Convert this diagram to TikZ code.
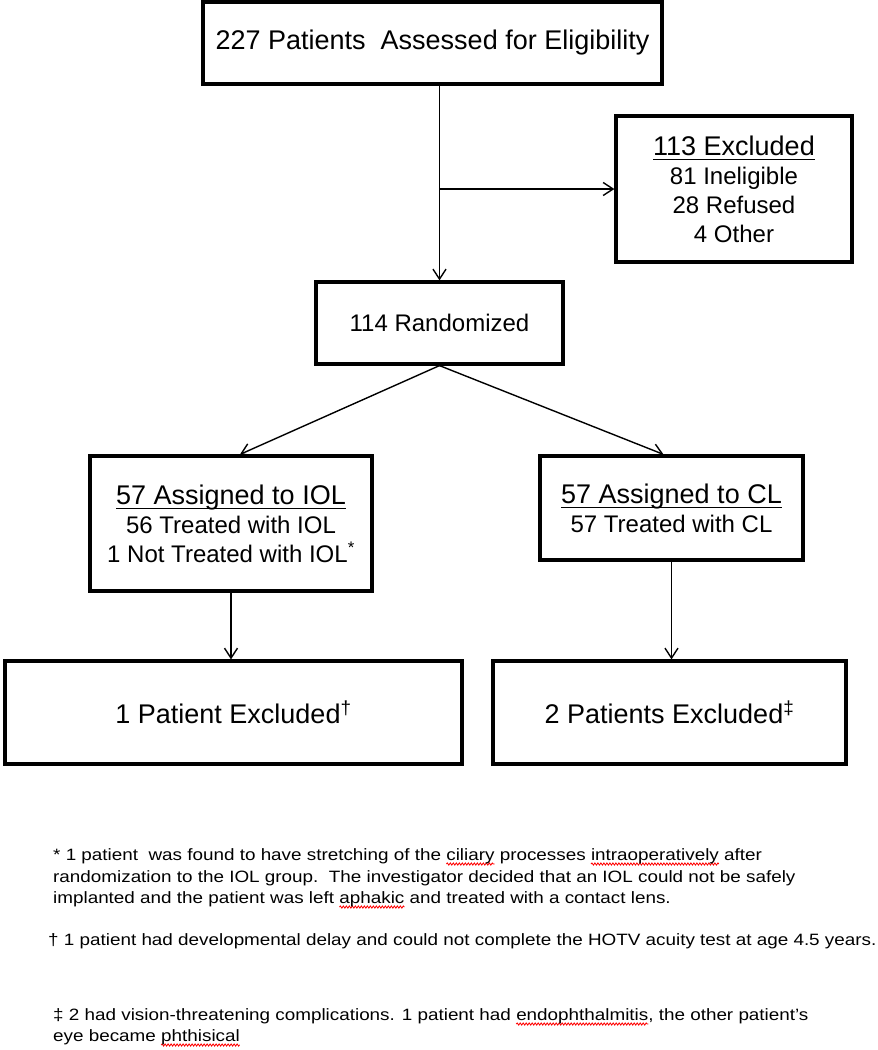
\documentclass[tikz,border=0pt]{standalone}
\usepackage{fontspec}
\setmainfont{Liberation Sans}
\newfontfamily\fnfont[FakeStretch=1.15]{Liberation Sans}
\usetikzlibrary{arrows.meta,decorations.pathmorphing}
\newsavebox\wbox
\newlength\wlen
\newcommand\hul[1]{\sbox\wbox{#1}\setlength\wlen{\wd\wbox}\rlap{\rule[-5pt]{\wlen}{1.5pt}}\usebox\wbox}
\newcommand\redwave[1]{\sbox\wbox{#1}\setlength\wlen{\wd\wbox}\rlap{\tikz[overlay,baseline=0pt,x=1cm,y=1cm]\draw[red,line width=0.8pt,decorate,decoration={snake,amplitude=1.1pt,segment length=3pt}] (0pt,-4pt) -- (\wlen,-4pt);}\usebox\wbox}
\begin{document}
\begin{tikzpicture}[x=1pt,y=-1pt,
  box/.style={draw, line width=3.2pt, inner sep=0pt, align=center},
  conn/.style={line width=1.4pt, -{Straight Barb[length=10pt,width=13pt,line width=1.4pt]}},
  head/.style={font=\fontsize{27}{29}\selectfont},
  sub/.style={font=\fontsize{24}{29}\selectfont},
  fn/.style={anchor=base west, inner sep=0pt, font=\fnfont\fontsize{16.4}{21}\selectfont}]
\useasboundingbox[fill=white] (0,0) rectangle (878,1050);

\node[box, head, minimum width=459pt, minimum height=82pt] (top) at (432.5,43)
  {227 Patients\ \ Assessed for Eligibility};
\node[box, sub, minimum width=236pt, minimum height=146pt] (excl) at (734,189)
  {{\fontsize{27}{29}\selectfont\hul{113 Excluded}}\\ 81 Ineligible\\ 28 Refused\\ 4 Other};
\node[box, sub, minimum width=247pt, minimum height=82pt] (rand) at (439.5,323)
  {114 Randomized};
\node[box, sub, minimum width=282pt, minimum height=135pt] (iol) at (231,523.5)
  {{\fontsize{27}{29}\selectfont\hul{57 Assigned to IOL}}\\ 56 Treated with IOL\\ 1 Not Treated with IOL\textsuperscript{*}};
\node[box, sub, minimum width=263pt, minimum height=104pt] (cl) at (671.5,508)
  {{\fontsize{27}{29}\selectfont\hul{57 Assigned to CL}}\\ 57 Treated with CL};
\node[box, head, minimum width=457pt, minimum height=103pt] (botl) at (233.5,712.5)
  {1 Patient Excluded\textsuperscript{†}};
\node[box, head, minimum width=353pt, minimum height=103pt] (botr) at (669.5,712.5)
  {2 Patients Excluded\textsuperscript{‡}};

\draw[conn] (rand.north |- top.south) -- (rand.north);
\coordinate (br) at (rand.north |- excl.west);
\draw[conn] (br) -- (excl.west);
\draw[conn] (rand.south) -- ([xshift=9pt]iol.north);
\draw[conn] (rand.south) -- ([xshift=-8pt]cl.north);
\draw[conn] (iol.south) -- (iol.south |- botl.north);
\draw[conn] (cl.south) -- (cl.south |- botr.north);

\node[fn] (f1a) at (53,860) {* 1 patient\ \ was found to have stretching of the \redwave{ciliary} processes \redwave{intraoperatively} after};
\node[fn] (f1b) at (53,882) {randomization to the IOL group.\ \ The investigator decided that an IOL could not be safely};
\node[fn] (f1c) at (53,903) {implanted and the patient was left \redwave{aphakic} and treated with a contact lens.};
\node[fn] (f2) at (48,945) {† 1 patient had developmental delay and could not complete the HOTV acuity test at age 4.5 years.};
\node[fn] (f3a) at (53,1020) {‡ 2 had vision-threatening complications. 1 patient had \redwave{endophthalmitis}, the other patient’s};
\node[fn] (f3b) at (53,1041) {eye became \redwave{phthisical}};
\end{tikzpicture}
\end{document}
